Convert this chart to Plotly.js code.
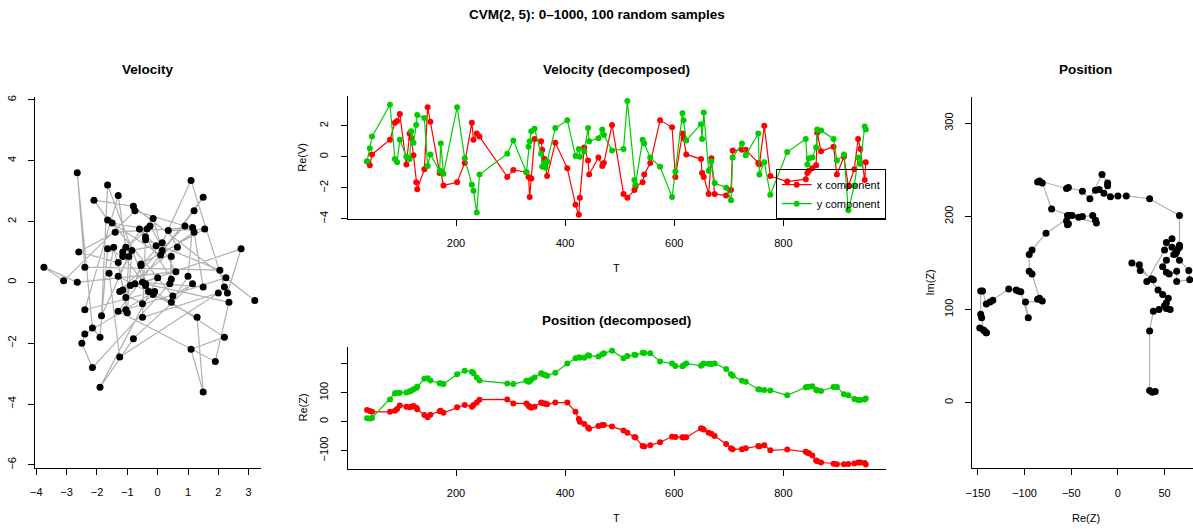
<!DOCTYPE html>
<html><head><meta charset="utf-8">
<script src="https://cdn.plot.ly/plotly-3.0.1.min.js"></script>
<style>html,body{margin:0;padding:0;background:#fff}#chart{width:1193px;height:529px}</style>
</head><body><div id="chart"></div>
<script>
// Sample times
const T = [37,42,46,79,88,92,97,109,115,118,
  122,127,129,142,148,153,170,172,177,202,
  216,229,232,238,243,294,305,329,333,335,
  338,344,356,358,362,364,367,382,404,419,
  425,427,435,442,444,461,468,471,486,507,
  514,527,529,542,545,556,574,596,602,615,
  617,622,649,651,654,663,668,674,695,704,
  707,724,731,754,756,765,776,807,841,844,
  847,853,860,862,869,892,898,911,919,930,
  937,941,949,951];
// Velocity x component Re(V)
const vx = [-0.3,-0.55,0.15,1.1,2.2,2.3,2.75,-0.5,1.5,1.2,
  0.1,-1.65,-2.1,-0.8,3.2,2.25,-1.05,-0.95,-1.85,-1.65,
  -0.4,2.2,1.1,1.5,1.3,-1.3,-0.85,-1.0,-1.3,-2.6,
  -1.4,1.15,1.0,0.45,-0.15,-0.5,-1.25,0.9,-0.75,-3.1,
  -3.75,-2.65,0.6,-0.25,-1.15,-0.05,-0.6,-0.4,2.05,-2.4,
  -2.65,-2.15,-1.9,-1.65,-1.15,-0.4,2.35,1.9,-1.3,1.5,
  1.2,0.15,-0.15,-1.05,-1.3,-2.4,-0.1,-2.4,-2.5,-2.15,
  0.4,0.45,0.45,-0.4,-0.5,2.0,-1.25,-1.6,-1.45,-1.05,
  -0.9,-0.75,-0.55,1.55,0.35,0.65,-1.15,0.0,-1.9,-0.8,
  1.15,0.5,-1.5,-0.35];
// Velocity y component Im(V)
const vy = [-0.3,0.55,1.3,3.35,-0.15,-0.35,1.1,0.0,-0.15,1.65,
  0.9,2.05,2.7,2.5,-0.6,0.15,-0.9,0.85,-1.1,3.2,
  -0.1,-1.8,-2.2,-3.6,-1.15,0.2,1.05,-1.0,0.65,1.0,
  1.65,1.8,0.2,-0.65,-0.4,-0.7,-0.3,1.85,2.35,0.05,
  0.5,0.0,0.35,1.85,1.0,1.2,1.75,1.4,0.4,0.5,
  3.6,-1.5,-1.8,1.1,0.85,-0.05,-0.65,-2.6,-0.95,2.8,
  2.35,1.05,2.1,1.15,2.85,-0.9,-0.3,-1.7,-2.0,-2.8,
  -0.05,0.85,0.1,1.5,-1.15,-0.35,-2.45,0.3,1.15,-0.5,
  -0.1,-0.05,0.6,1.75,1.7,1.15,-0.25,0.15,-3.45,-1.85,
  -0.05,-0.45,1.95,1.75];
// Position x component Re(Z)
const zx = [40,37,34,34,38,44,56,52,50,52,
  54,48,43,23,15,24,36,38,31,50,
  58,52,58,66,76,77,63,63,55,52,
  48,52,66,64,63,62,60,66,66,34,
  9,0,-8,-20,-24,-15,-11,-11,-17,-30,
  -38,-53,-55,-84,-86,-81,-71,-52,-53,-54,
  -55,-54,-23,-24,-27,-38,-42,-49,-77,-92,
  -95,-95,-92,-84,-86,-81,-99,-96,-104,-107,
  -109,-117,-134,-137,-141,-145,-147,-147,-146,-144,
  -141,-141,-143,-148];
// Position y component Im(Z)
const zy = [12,11,13,77,98,100,100,101,104,107,
  112,116,121,148,150,142,133,132,130,164,
  176,172,167,153,142,132,130,141,138,140,
  146,153,167,165,162,160,159,169,201,219,
  222,222,221,229,228,225,233,236,245,219,
  227,231,230,238,237,236,208,201,192,191,
  195,201,193,196,201,200,199,201,182,164,
  159,141,138,112,111,109,108,91,119,120,
  121,122,110,108,106,120,120,95,91,78,
  75,75,77,80];

const W = 1193, H = 529;
const px = v => v / W;
const py = v => 1 - v / H;
const FONT = 'Liberation Sans, Arial, Helvetica, sans-serif';
const RED = '#FF0000', GREEN = '#00CD00', GREY = '#B0B0B0';

function ax(domain, range, tickvals, extra) {
  return Object.assign({
    domain: domain, range: range, tickvals: tickvals,
    showline: true, linecolor: '#000', linewidth: 1, mirror: false,
    ticks: 'outside', ticklen: 6, tickwidth: 1, tickcolor: '#000',
    showgrid: false, zeroline: false, fixedrange: true,
    tickfont: {family: FONT, size: 11, color: '#000'},
    ticklabelstandoff: 8
  }, extra || {});
}

const traces = [
  {x: vx, y: vy, xaxis: 'x', yaxis: 'y', mode: 'lines', type: 'scatter',
   line: {color: GREY, width: 1.2}, showlegend: false, hoverinfo: 'skip'},
  {x: vx, y: vy, xaxis: 'x', yaxis: 'y', mode: 'markers', type: 'scatter',
   marker: {color: '#000', size: 7}, showlegend: false},
  {x: T, y: vx, xaxis: 'x2', yaxis: 'y2', mode: 'lines+markers', type: 'scatter',
   name: 'x component', line: {color: RED, width: 1.2}, marker: {color: RED, size: 6}},
  {x: T, y: vy, xaxis: 'x2', yaxis: 'y2', mode: 'lines+markers', type: 'scatter',
   name: 'y component', line: {color: GREEN, width: 1.2}, marker: {color: GREEN, size: 6}},
  {x: T, y: zx, xaxis: 'x3', yaxis: 'y3', mode: 'lines+markers', type: 'scatter',
   line: {color: RED, width: 1.2}, marker: {color: RED, size: 6}, showlegend: false},
  {x: T, y: zy, xaxis: 'x3', yaxis: 'y3', mode: 'lines+markers', type: 'scatter',
   line: {color: GREEN, width: 1.2}, marker: {color: GREEN, size: 6}, showlegend: false},
  {x: zx, y: zy, xaxis: 'x4', yaxis: 'y4', mode: 'lines', type: 'scatter',
   line: {color: GREY, width: 1.2}, showlegend: false, hoverinfo: 'skip'},
  {x: zx, y: zy, xaxis: 'x4', yaxis: 'y4', mode: 'markers', type: 'scatter',
   marker: {color: '#000', size: 7}, showlegend: false}
];

function ann(text, x, y, opts) {
  return Object.assign({text: text, x: px(x), y: py(y), xref: 'paper', yref: 'paper',
    showarrow: false, xanchor: 'center', yanchor: 'middle',
    font: {family: FONT, size: 11, color: '#000'}}, opts || {});
}
const bold = {family: FONT, size: 13.5, color: '#000'};

const layout = {
  width: W, height: H,
  margin: {l: 0, r: 0, t: 0, b: 0},
  paper_bgcolor: '#fff', plot_bgcolor: 'rgba(0,0,0,0)',
  showlegend: true,
  legend: {x: px(885.7), xanchor: 'right', y: py(219.2), yanchor: 'bottom',
    bgcolor: 'rgba(0,0,0,0)', bordercolor: '#000', borderwidth: 1,
    font: {family: FONT, size: 11, color: '#000'}, tracegroupgap: 0, itemwidth: 30},
  xaxis: ax([px(35.3), px(261.3)], [-4.033, 3.416], [-4,-3,-2,-1,0,1,2,3], {anchor: 'y'}),
  yaxis: ax([py(467.7), py(97)], [-6.09, 6.09], [-6,-4,-2,0,2,4,6], {anchor: 'x', tickangle: -90}),
  xaxis2: ax([px(347.5), px(885.7)], [1.1, 987.5], [200,400,600,800], {anchor: 'y2'}),
  yaxis2: ax([py(219.2), py(96.3)], [-4.03, 3.9], [-4,-2,0,2], {anchor: 'x2', tickangle: -90}),
  xaxis3: ax([px(347.5), px(885.7)], [1.1, 987.5], [200,400,600,800], {anchor: 'y3'}),
  yaxis3: ax([py(468.5), py(346.5)], [-161.6, 259.6], [-100,0,100,200],
    {anchor: 'x3', tickangle: -90, ticktext: ['\u2212100','0','100','']}),
  xaxis4: ax([px(972.3), 1], [-156, 80.5], [-150,-100,-50,0,50], {anchor: 'y4'}),
  yaxis4: ax([py(468.3), py(96.7)], [-70.6, 328.6], [0,100,200,300], {anchor: 'x4', tickangle: -90}),
  annotations: [
    ann('<b>CVM(2, 5): 0\u20131000, 100 random samples</b>', 596.5, 14, {font: bold}),
    ann('<b>Velocity</b>', 148.3, 70, {font: bold}),
    ann('<b>Velocity (decomposed)</b>', 616.6, 70, {font: bold}),
    ann('<b>Position (decomposed)</b>', 616.6, 320, {font: bold}),
    ann('<b>Position</b>', 1085.5, 70, {font: bold}),
    ann('T', 616.6, 268),
    ann('T', 616.6, 518),
    ann('Re(V)', 302, 157.8, {textangle: -90}),
    ann('Re(Z)', 302, 407.5, {textangle: -90}),
    ann('Re(Z)', 1085.5, 518),
    ann('Im(Z)', 929, 282.5, {textangle: -90})
  ]
};

Plotly.newPlot('chart', traces, layout, {staticPlot: true, displayModeBar: false});
</script>
</body></html>
